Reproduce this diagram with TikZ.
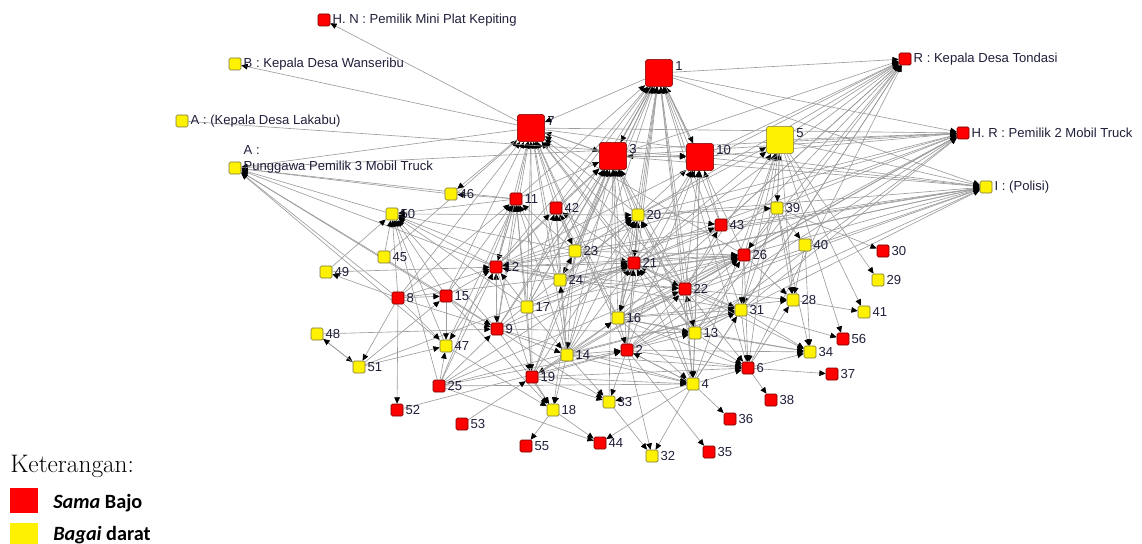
\documentclass[tikz,border=0pt]{standalone}
\usepackage{fontspec}
\usepackage{tikz}
\usetikzlibrary{arrows.meta}
\newfontfamily\lblfont{Liberation Sans}
\newfontfamily\legfont{Carlito}
\definecolor{edgegray}{HTML}{9C9C9C}
\definecolor{labeltext}{HTML}{1F1F3A}
\pgfdeclarelayer{bg}
\pgfsetlayers{bg,main}
\tikzset{
  sb/.style={draw=red!45!black,fill=red,rounded corners=1pt,inner sep=0pt,minimum size=0.3cm},
  bd/.style={draw=yellow!40!black,fill=yellow,rounded corners=1pt,inner sep=0pt,minimum size=0.3cm},
  big/.style={minimum size=0.68cm,rounded corners=2pt},
  lbl/.style={font=\lblfont\fontsize{9.3}{11}\selectfont,text=labeltext,inner sep=1.5pt},
  sl/.style={label={[lbl]right:#1}},
  bl/.style={label={[lbl,anchor=north west]north east:#1}},
  ln/.style={draw=edgegray,line width=0.45pt,-{Triangle[color=black,length=4.5pt,width=4pt]}}
}

\begin{document}
\begin{tikzpicture}[x=0.025cm,y=-0.025cm]
\useasboundingbox (0,0) rectangle (1142,544);
%\draw[help lines,step=50] (0,0) grid (1142,544);
% big actors
\node[sb,big,bl=1] (n1) at (659,73) {};
\node[sb,big,bl=7] (n7) at (531,128) {};
\node[sb,big,bl=3] (n3) at (613,156) {};
\node[sb,big,bl=10] (n10) at (700,157) {};
\node[bd,big,bl=5] (n5) at (780,140) {};
% named actors
\node[sb,sl={H. N : Pemilik Mini Plat Kepiting}] (hn) at (324,20) {};
\node[bd,sl={B : Kepala Desa Wanseribu}] (wb) at (235,64) {};
\node[bd,sl={A : (Kepala Desa Lakabu)}] (al) at (182,121) {};
\node[bd,label={[lbl,align=left,anchor=west,yshift=0.22cm]east:{A :\\Punggawa Pemilik 3 Mobil Truck}}] (ap) at (235,168) {};
\node[sb,sl={R : Kepala Desa Tondasi}] (rt) at (905,59) {};
\node[sb,sl={H. R : Pemilik 2 Mobil Truck}] (hr) at (963,133) {};
\node[bd,sl={I : (Polisi)}] (po) at (986,187) {};
% sama bajo
\node[sb,sl=11] (n11) at (516,199) {};
\node[sb,sl=42] (n42) at (556,208) {};
\node[sb,sl=43] (n43) at (721,225) {};
\node[sb,sl=30] (n30) at (883,251) {};
\node[sb,sl=21] (n21) at (634,263) {};
\node[sb,sl=26] (n26) at (744,255) {};
\node[sb,sl=12] (n12) at (496,267) {};
\node[sb,sl=22] (n22) at (685,289) {};
\node[sb,sl=8] (n8) at (398,298) {};
\node[sb,sl=15] (n15) at (446,296) {};
\node[sb,sl=9] (n9) at (497,329) {};
\node[sb,sl=56] (n56) at (843,339) {};
\node[sb,sl=2] (n2) at (627,350) {};
\node[sb,sl=6] (n6) at (748,368) {};
\node[sb,sl=19] (n19) at (532,377) {};
\node[sb,sl=37] (n37) at (832,374) {};
\node[sb,sl=25] (n25) at (439,386) {};
\node[sb,sl=38] (n38) at (771,400) {};
\node[sb,sl=52] (n52) at (397,410) {};
\node[sb,sl=36] (n36) at (730,419) {};
\node[sb,sl=53] (n53) at (462,424) {};
\node[sb,sl=55] (n55) at (526,446) {};
\node[sb,sl=44] (n44) at (600,443) {};
\node[sb,sl=35] (n35) at (709,452) {};
% bagai darat
\node[bd,sl=46] (n46) at (451,194) {};
\node[bd,sl=50] (n50) at (392,214) {};
\node[bd,sl=20] (n20) at (638,215) {};
\node[bd,sl=39] (n39) at (777,208) {};
\node[bd,sl=40] (n40) at (805,245) {};
\node[bd,sl=45] (n45) at (384,257) {};
\node[bd,sl=23] (n23) at (575,251) {};
\node[bd,sl=49] (n49) at (326,272) {};
\node[bd,sl=24] (n24) at (560,280) {};
\node[bd,sl=29] (n29) at (878,280) {};
\node[bd,sl=28] (n28) at (793,300) {};
\node[bd,sl=17] (n17) at (527,307) {};
\node[bd,sl=16] (n16) at (618,318) {};
\node[bd,sl=31] (n31) at (741,310) {};
\node[bd,sl=41] (n41) at (864,312) {};
\node[bd,sl=13] (n13) at (695,333) {};
\node[bd,sl=48] (n48) at (317,334) {};
\node[bd,sl=47] (n47) at (446,346) {};
\node[bd,sl=14] (n14) at (567,355) {};
\node[bd,sl=34] (n34) at (810,352) {};
\node[bd,sl=51] (n51) at (359,367) {};
\node[bd,sl=4] (n4) at (693,384) {};
\node[bd,sl=33] (n33) at (609,402) {};
\node[bd,sl=18] (n18) at (553,410) {};
\node[bd,sl=32] (n32) at (652,456) {};
% ties (target/sources)
\begin{pgfonlayer}{bg}
\foreach \t/\ss in {
  n1/{n3,n10,n20,n21,n22,n16,n13,n2,n23,n24,n43,n26,n12,n14,n17,n4,n31,n9,n19,n11,n42,n6},
  n7/{n11,n12,n15,n8,n9,n21,n20,n23,n24,n17,n14,n19,n2,n16,n22,n13,n42,n3,n1,n26,n45},
  hn/{n7}, wb/{n7}, n46/{n7,n11},
  ap/{n7,n46,n50,n12,n15,n9,n8,n11,n47},
  n3/{n21,n20,n23,n24,n16,n2,n14,n17,n19,n9,n12,n22,n4,n33,n42,n13,n1,n10,n7,n11},
  n10/{n3,n21,n22,n13,n16,n43,n2,n4,n20,n1,al},
  n5/{n20,n39,n21,n22,n26,n31,n4},
  rt/{n1,n3,n10,n26,n20,n21,n22,n31,n6,n13,n4,n43,n12,n16,n5},
  hr/{n1,n7,n3,n10,n5,n26,n22,n21,n12,n20,n16,n31,n13,ap,n2,n24},
  po/{n1,n3,n10,n5,n7,n21,n22,n26,n43,n12,n20,n16,n2,n23,n13,n24},
  n11/{n12,n8,n15,n9,n47,n17,n23,n24,n14,n19,n25},
  n42/{n23,n24,n14,n21,n12,n17,n16},
  n20/{n21,n16,n22,n2,n24,n23,n50,n14,n19,n9,n12,n13},
  n21/{n20,n16,n2,n22,n23,n12,n24,n14,n4,n13,n9,n17,n25,n51},
  n26/{n21,n22,n16,n24,n12,n17,n9,n14,n2,n23,n19,n13,n25,n8,n39},
  n31/{n26,n22,n16,n21,n2,n14,n13,n4,n25,n39,n12},
  n34/{n13,n16,n2,n22,n6,n39,n31,n40},
  n43/{n22,n21,n20}, n22/{n21,n16,n13,n24,n2,n12}, n13/{n22,n16,n9,n2},
  n4/{n13,n2,n16,n14,n9,n19,n22,n25},
  n6/{n31,n26,n13,n2,n22,n14,n16,n4,n19,n5},
  n28/{n39,n40,n22,n6,n26,n16,n5},
  n41/{n28,n5}, n56/{n5,n31}, n29/{n5}, n30/{n39}, n37/{n6}, n38/{n6},
  n36/{n4}, n35/{n2}, n32/{n2,n4,n33}, n33/{n2,n14,n4,n9,n19},
  n44/{n25,n18,n4}, n55/{n18}, n19/{n17,n14,n53,n12},
  n2/{n16,n4,n14,n52,n25,n19}, n18/{n19,n14,n9,n15,n47,n23},
  n14/{n9,n17,n23}, n47/{n15,n8,n12,n25,n51}, n51/{n48,n8}, n48/{n51},
  n12/{n11,n49,n8,n15,n25,n9,n24,n23,n17}, n9/{n12,n15,n8,n48,n25},
  n15/{n8,n51}, n24/{n23,n14}, n23/{n42,n24}, n16/{n21,n14,n19},
  n39/{n5,n20}, n40/{n39},
  n50/{n8,n15,n12,n9,n47,n25,n23,n24,n17,n45,n11,n49},
  n49/{n8}, n52/{n8}}
  \foreach \s in \ss
    \draw[ln] (\s) -- (\t);
\end{pgfonlayer}
% legend
\node[anchor=base west,inner sep=0pt,font=\fontsize{18}{20}\selectfont] (ket) at (10,472) {Keterangan:};
\node[fill=red,anchor=north west,minimum width=0.7cm,minimum height=0.625cm,inner sep=0pt] (kr) at (10,488) {};
\node[fill=yellow,anchor=north west,minimum width=0.7cm,minimum height=0.55cm,inner sep=0pt] (ky) at (10,523) {};
\node[anchor=base west,inner sep=0pt,font=\legfont\bfseries\fontsize{14.4}{16}\selectfont] (ksb) at (53,508) {\textit{Sama} Bajo};
\node[anchor=base west,inner sep=0pt,font=\legfont\bfseries\fontsize{14.4}{16}\selectfont] (kbd) at (53,540) {\textit{Bagai} darat};
\end{tikzpicture}
\end{document}
